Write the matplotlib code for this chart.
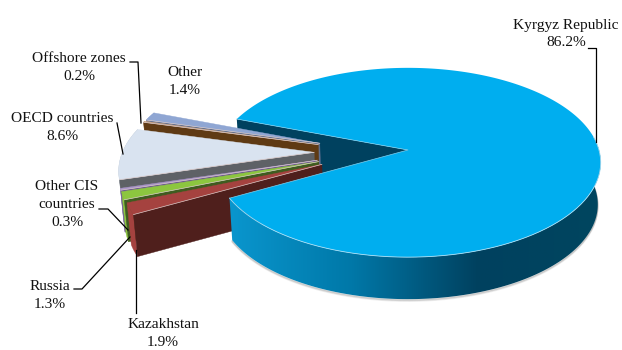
import numpy as np
import matplotlib
matplotlib.use('Agg')
import matplotlib.pyplot as plt
from matplotlib.colors import LinearSegmentedColormap
from matplotlib.patches import Polygon

plt.rcParams['font.family'] = ['Liberation Serif', 'DejaVu Serif']

# slices in drawing order round the pie, starting at the lower edge of the gap
names = ['Kazakhstan', 'Russia', 'Other CIS\ncountries', 'OECD countries', 'Offshore zones', 'Other', 'Kyrgyz Republic']
shares = [1.9, 1.3, 0.3, 8.6, 0.2, 1.4, 86.2]

top_colours = ['#a5423f', '#8cc63f', '#a994c8', '#d9e3f0', '#c8a080', '#8fa6d3', '#00aeef']
edge_colours = ['#4f1f1c', '#3f5c20', '#6f5c90', '#5e6166', '#5f3a14', '#5f6f90', '#00415f']
rim_colours = ['#a5423f', '#8cc63f', '#a994c8', '#b9c3d0', '#c8a080', '#8fa6d3', '#00415f']

# layout of the fake 3D pie, in pixels
cx, cy = 408, 150
rx, ry = 191, 93
persp = 0.132
depth = 42
shrink = 0.985
start_angle = 151
explode = 0.49
explode_fan = 0.62
explode_down = 0.02

label_x = [163, 50, 67, 62, 79, 185, 566]
label_y = [334, 295, 205, 128, 67, 82, 34]
leaders = [
    [(136, 313), (136, 250)],
    [(74, 289), (82, 289), (130, 237)],
    [(99, 209), (108, 209), (128, 230)],
    [(117, 123), (123, 154)],
    [(130, 62), (138, 62), (141, 123)],
    [],
    [(588, 48), (596, 48), (596, 142)],
]


def project(x, y):
    w = 1 - persp * y
    return cx + rx * x / w, cy + ry * y / w


def lower(px, py):
    return cx + (px - cx) * shrink, py + depth


def arc(a0, a1, ox, oy):
    t = np.radians(np.linspace(a0, a1, max(int(abs(a1 - a0)) * 2, 6)))
    return project(np.cos(t) + ox, np.sin(t) + oy)


def quad_strip(ax, px, py, colour, z):
    bx, by = lower(px, py)
    ax.fill(np.r_[px, bx[::-1]], np.r_[py, by[::-1]], color=colour, lw=0.3, zorder=z)


fig = plt.figure(figsize=(6.22, 3.5), dpi=100)
ax = fig.add_axes([0, 0, 1, 1])
ax.axis('off')

spans = 360 * np.array(shares) / sum(shares)
starts = start_angle + np.r_[0, np.cumsum(spans)[:-1]]
ends = starts + spans

# back wall of the big slice, seen through the gap
ax0, ay0 = project(np.cos(np.radians(ends[5])), np.sin(np.radians(ends[5])))
apx, apy = project(0., 0.)
bx0, by0 = lower(np.array([ax0, apx]), np.array([ay0, apy]))
ax.fill([ax0, apx, bx0[1], bx0[0]], [ay0, apy, by0[1], by0[0]], color=edge_colours[6], lw=0, zorder=1)

# small exploded slices, back to front
for i in [5, 4, 3, 2, 1, 0]:
    z = 2 + (5 - i) * 0.1
    mid = np.radians((starts[i] + ends[i]) / 2)
    ox = explode * np.cos(mid)
    oy = explode * explode_fan * np.sin(mid) + explode_down
    px, py = arc(starts[i], ends[i], ox, oy)
    qx, qy = project(ox, oy)

    quad_strip(ax, px, py, rim_colours[i], z)
    quad_strip(ax, np.array([qx, px[0]]), np.array([qy, py[0]]), edge_colours[i], z + 0.01)
    ax.fill(np.r_[qx, px], np.r_[qy, py], color=top_colours[i], lw=0.3, zorder=z + 0.05)
    ax.plot([qx, px[0]], [qy, py[0]], color='#d8c8c8', lw=0.5, zorder=z + 0.06)

# big slice: shadow, shaded rim, then top
rim_map = LinearSegmentedColormap.from_list('rim', ['#0a97cf', '#0078a8', '#00415f', '#00465f'])
mx, my = arc(starts[6], ends[6], 0, 0)
t = np.radians(np.linspace(-8, start_angle, 200))
rx_pts, ry_pts = project(np.cos(t), np.sin(t))
bx_pts, by_pts = lower(rx_pts, ry_pts)
for k, a in zip([3, 2, 1], [0.12, 0.2, 0.3]):
    ax.plot(bx_pts, by_pts + k * 0.7, color='#808080', alpha=a, lw=1, zorder=2.9)

rim_shape = Polygon(np.c_[np.r_[rx_pts, bx_pts[::-1]], np.r_[ry_pts, by_pts[::-1]]], closed=True, fc='none', ec='none')
ax.add_patch(rim_shape)
grad = np.linspace(0, 1, 256).reshape(1, -1)
im = ax.imshow(grad, cmap=rim_map, extent=(225, 605, 310, 100), aspect='auto', zorder=3)
im.set_clip_path(rim_shape)

ax.fill(np.r_[apx, mx], np.r_[apy, my], color=top_colours[6], lw=0, zorder=3.2)
ax.plot(rx_pts, ry_pts, color='#a8def5', lw=0.6, zorder=3.3)
ax.plot([mx[-1], apx, mx[0]], [my[-1], apy, my[0]], color='#7fd0f0', lw=0.5, zorder=3.3)

# labels and leader lines
for name, share, x, y, line in zip(names, shares, label_x, label_y, leaders):
    ax.text(x, y, f'{name}\n{share}%', ha='center', va='center', fontsize=11.1,
            color='#111111', linespacing=1.5, zorder=5)
    if line:
        lx, ly = zip(*line)
        ax.plot(lx, ly, color='black', lw=0.9, zorder=4)

ax.set_xlim(0, 622)
ax.set_ylim(350, 0)
fig.savefig('out.png', dpi=100)
